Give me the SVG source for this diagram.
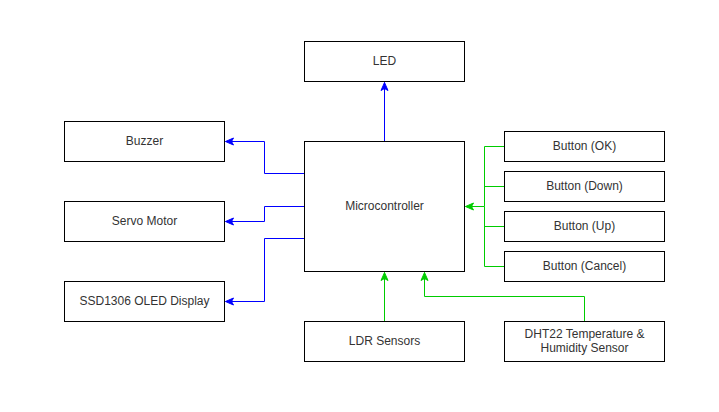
<svg xmlns="http://www.w3.org/2000/svg" width="719" height="412" viewBox="0 0 719 412">
<style>
.box{fill:#fff;stroke:#000;stroke-width:1}
.t{font-family:"Liberation Sans",Arial,sans-serif;font-size:12px;fill:#333;text-anchor:middle;dominant-baseline:central}
.b{fill:none;stroke:#0000ff;stroke-width:1}
.g{fill:none;stroke:#00cc00;stroke-width:1}
</style>
<defs>
<marker id="ab" markerWidth="10" markerHeight="10" viewBox="0 0 10 10" refX="9" refY="5" orient="auto" markerUnits="userSpaceOnUse">
<path d="M1,1.5 L9,5 L1,8.5 L3,5 Z" fill="#0000ff" stroke="#0000ff"/>
</marker>
<marker id="ag" markerWidth="10" markerHeight="10" viewBox="0 0 10 10" refX="9" refY="5" orient="auto" markerUnits="userSpaceOnUse">
<path d="M1,1.5 L9,5 L1,8.5 L3,5 Z" fill="#00cc00" stroke="#00cc00"/>
</marker>
</defs>
<rect width="719" height="412" fill="#fff"/>
<g id="connectors">
<path class="b" d="M384.5,141.5 V82.5" marker-end="url(#ab)"/>
<path class="b" d="M304.5,173.5 H264.5 V141.5 H225.5" marker-end="url(#ab)"/>
<path class="b" d="M304.5,206.5 H264.5 V221.5 H225.5" marker-end="url(#ab)"/>
<path class="b" d="M304.5,238.5 H264.5 V301.5 H225.5" marker-end="url(#ab)"/>
<path class="g" d="M504.5,146.5 H484.5 V206.5"/>
<path class="g" d="M504.5,186.5 H484.5"/>
<path class="g" d="M504.5,226.5 H484.5"/>
<path class="g" d="M504.5,266.5 H484.5 V206.5"/>
<path class="g" d="M484.5,206.5 H465.5" marker-end="url(#ag)"/>
<path class="g" d="M384.5,321.5 V272.5" marker-end="url(#ag)"/>
<path class="g" d="M584.5,321.5 V296.5 H424.5 V272.5" marker-end="url(#ag)"/>
</g>
<g id="led"><rect class="box" x="304.5" y="41.5" width="160" height="40"/><text class="t" x="384.5" y="60.5">LED</text></g>
<g id="microcontroller"><rect class="box" x="304.5" y="141.5" width="160" height="130"/><text class="t" x="384.5" y="205.5">Microcontroller</text></g>
<g id="buzzer"><rect class="box" x="64.5" y="121.5" width="160" height="40"/><text class="t" x="144.5" y="140.5">Buzzer</text></g>
<g id="servo"><rect class="box" x="64.5" y="201.5" width="160" height="40"/><text class="t" x="144.5" y="220.5">Servo Motor</text></g>
<g id="display"><rect class="box" x="64.5" y="281.5" width="160" height="40"/><text class="t" x="144.5" y="300.5">SSD1306 OLED Display</text></g>
<g id="btn-ok"><rect class="box" x="504.5" y="131.5" width="160" height="30"/><text class="t" x="584.5" y="145.5">Button (OK)</text></g>
<g id="btn-down"><rect class="box" x="504.5" y="171.5" width="160" height="30"/><text class="t" x="584.5" y="185.5">Button (Down)</text></g>
<g id="btn-up"><rect class="box" x="504.5" y="211.5" width="160" height="30"/><text class="t" x="584.5" y="225.5">Button (Up)</text></g>
<g id="btn-cancel"><rect class="box" x="504.5" y="251.5" width="160" height="30"/><text class="t" x="584.5" y="265.5">Button (Cancel)</text></g>
<g id="ldr"><rect class="box" x="304.5" y="321.5" width="160" height="40"/><text class="t" x="384.5" y="340.5">LDR Sensors</text></g>
<g id="dht22"><rect class="box" x="504.5" y="321.5" width="160" height="40"/><text class="t" x="584.5" y="333.5">DHT22 Temperature &amp;</text><text class="t" x="584.5" y="347.5">Humidity Sensor</text></g>
</svg>
